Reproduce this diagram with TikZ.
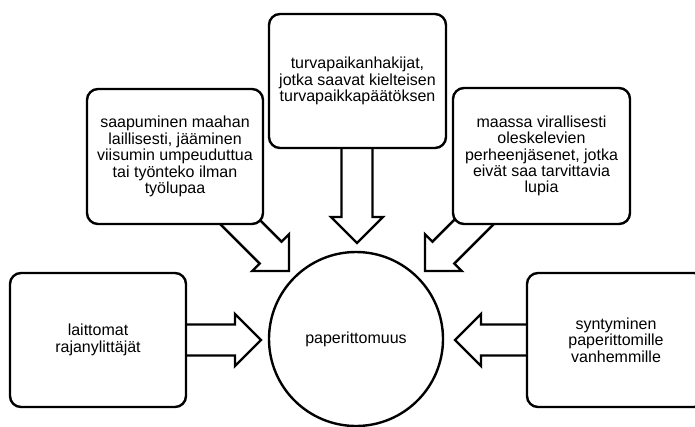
\documentclass[tikz,border=0pt]{standalone}
\usepackage{fontspec}
\setmainfont{Liberation Sans}
\begin{document}
\begin{tikzpicture}[x=1pt,y=-1pt,
  line width=2.4pt, line join=miter,
  box/.style={draw=black, fill=white, rounded corners=11pt, inner sep=0pt,
    align=center, font=\fontsize{16}{16.4}\selectfont},
  blk/.style={draw=black, fill=white},
  pics/barrow/.style={code={
    \draw[blk] (0,0) -- (-26,26) -- (-26,15.5) -- (-#1,15.5) -- (-#1,-15.5)
      -- (-26,-15.5) -- (-26,-26) -- cycle;}}]
\useasboundingbox (0,0) rectangle (695,426);
\clip (0,0) rectangle (695,426);
% tips of the block arrows
\coordinate (tL) at (261,340);
\coordinate (tT) at (357,243);
\coordinate (tA) at (289,271);
\coordinate (tB) at (425,271);
\coordinate (tR) at (455,340);
% block arrows (drawn first, boxes cover their tails)
\pic[rotate=0] at (tL) {barrow=81};
\pic[rotate=-90] at (tT) {barrow=103};
\pic[rotate=-45] at (tA) {barrow=92};
\pic[rotate=-135] at (tB) {barrow=92};
\pic[rotate=180] at (tR) {barrow=80};
% boxes
\node[box, minimum width=176pt, minimum height=134pt] (left) at (98,340)
  {laittomat\\rajanylittäjät};
\node[box, minimum width=177pt, minimum height=134pt] (top) at (357.5,81)
  {turvapaikanhakijat,\\jotka saavat kielteisen\\turvapaikkapäätöksen};
\node[box, minimum width=176pt, minimum height=135pt] (ldiag) at (175,156.5)
  {saapuminen maahan\\laillisesti, jääminen\\viisumin umpeuduttua\\tai työnteko ilman\\työlupaa};
\node[box, minimum width=177pt, minimum height=136pt] (rdiag) at (541.5,156)
  {maassa virallisesti\\oleskelevien\\perheenjäsenet, jotka\\eivät saa tarvittavia\\lupia};
\node[box, minimum width=178pt, minimum height=134pt] (right) at (616,340)
  {syntyminen\\paperittomille\\vanhemmille};
% central circle
\node[draw=black, fill=white, circle, inner sep=0pt, minimum size=174pt,
  font=\fontsize{16}{16.4}\selectfont] (c) at (356,339) {paperittomuus};
\end{tikzpicture}
\end{document}
